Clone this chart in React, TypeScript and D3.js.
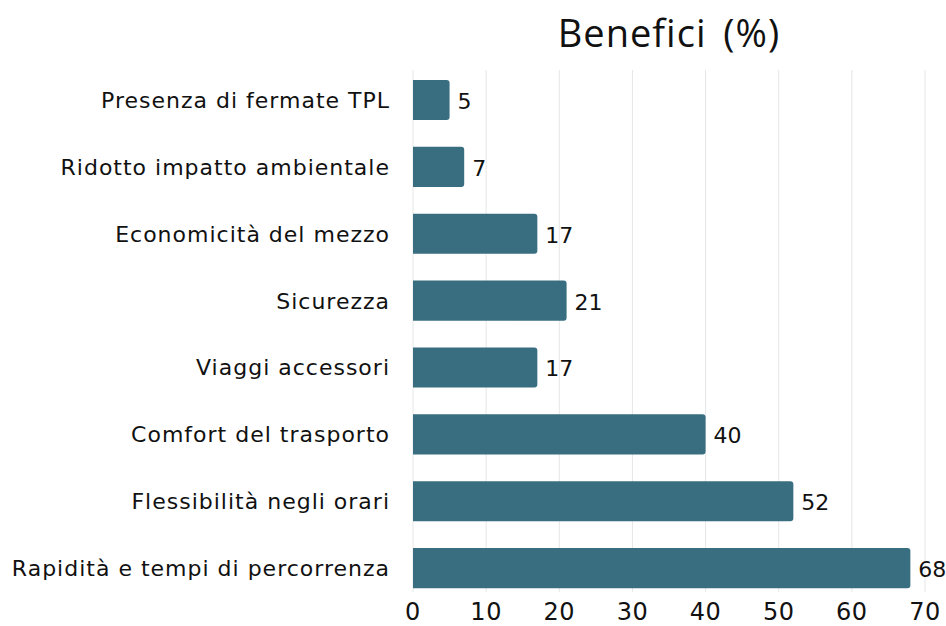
import { useEffect, useRef } from 'react';
import * as d3 from 'd3';

const categories = [
  'Presenza di fermate TPL',
  'Ridotto impatto ambientale',
  'Economicità del mezzo',
  'Sicurezza',
  'Viaggi accessori',
  'Comfort del trasporto',
  'Flessibilità negli orari',
  'Rapidità e tempi di percorrenza',
];
const values = [5, 7, 17, 21, 17, 40, 52, 68];
const xTicks = [0, 10, 20, 30, 40, 50, 60, 70];

const W = 946;
const H = 626;
const BAR = '#386e80';
const FONT = '"DejaVu Sans", sans-serif';

export default function App() {
  const svgRef = useRef<SVGSVGElement>(null);

  useEffect(() => {
    if (!svgRef.current) return;
    const svg = d3.select(svgRef.current);
    svg.selectAll('*').remove();

    const x = d3.scaleLinear().domain([0, 70]).range([413, 925]);
    const y = d3
      .scaleBand<string>()
      .domain(categories)
      .range([66.5, 601.5])
      .paddingInner(0.4)
      .paddingOuter(0.2);

    // Gridlines
    svg
      .append('g')
      .selectAll('line')
      .data(xTicks)
      .join('line')
      .attr('x1', (d) => x(d))
      .attr('x2', (d) => x(d))
      .attr('y1', 70)
      .attr('y2', 592)
      .attr('stroke', '#e6e6e6')
      .attr('stroke-width', 1);

    // Bars with rounded right end
    const r = 3;
    svg
      .append('g')
      .selectAll('path')
      .data(values)
      .join('path')
      .attr('fill', BAR)
      .attr('d', (d, i) => {
        const x0 = x(0);
        const x1 = x(d);
        const y0 = y(categories[i]) as number;
        const h = y.bandwidth();
        return `M${x0},${y0}H${x1 - r}Q${x1},${y0} ${x1},${y0 + r}V${y0 + h - r}Q${x1},${y0 + h} ${x1 - r},${y0 + h}H${x0}Z`;
      });

    // Value labels
    svg
      .append('g')
      .selectAll('text')
      .data(values)
      .join('text')
      .attr('x', (d) => x(d) + 8)
      .attr('y', (_, i) => (y(categories[i]) as number) + y.bandwidth() / 2 + 9)
      .attr('font-family', FONT)
      .attr('font-size', 22)
      .attr('fill', '#111')
      .text((d) => d);

    // Category labels
    svg
      .append('g')
      .selectAll('text')
      .data(categories)
      .join('text')
      .attr('x', 390)
      .attr('y', (d) => (y(d) as number) + y.bandwidth() / 2 + 8)
      .attr('text-anchor', 'end')
      .attr('font-family', FONT)
      .attr('font-size', 22)
      .attr('letter-spacing', 1)
      .attr('fill', '#111')
      .text((d) => d);

    // X tick labels
    svg
      .append('g')
      .selectAll('text')
      .data(xTicks)
      .join('text')
      .attr('x', (d) => x(d))
      .attr('y', 620)
      .attr('text-anchor', 'middle')
      .attr('font-family', FONT)
      .attr('font-size', 24)
      .attr('letter-spacing', 0.5)
      .attr('fill', '#111')
      .text((d) => d);

    // Title
    svg
      .append('text')
      .attr('x', 669)
      .attr('y', 47)
      .attr('text-anchor', 'middle')
      .attr('font-family', '"Open Sans", sans-serif')
      .attr('font-size', 38)
      .attr('letter-spacing', 1)
      .attr('word-spacing', 6)
      .attr('fill', '#111')
      .text('Benefici (%)');
  }, []);

  return (
    <svg
      ref={svgRef}
      width={W}
      height={H}
      style={{ position: 'absolute', left: 0, top: 0, background: '#fff' }}
    />
  );
}
